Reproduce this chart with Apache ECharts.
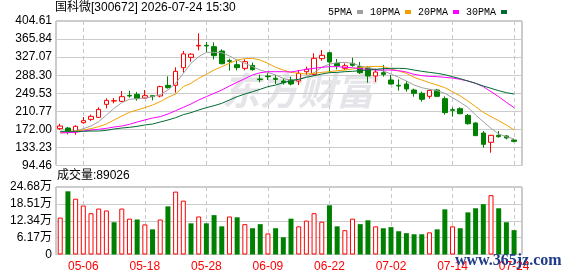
<!DOCTYPE html>
<html>
<head>
<meta charset="utf-8">
<script src="https://cdn.jsdelivr.net/npm/echarts@6/dist/echarts.min.js"></script>
<style>
html, body { margin: 0; padding: 0; background: #fff; }
#kChart { width: 578px; height: 276px; }
</style>
</head>
<body>
<div id="kChart"></div>
<script>
// 交易日
var dates = ['04-28','04-29','04-30','05-06','05-07','05-08','05-11','05-12','05-13','05-14',
	'05-15','05-18','05-19','05-20','05-21','05-22','05-25','05-26','05-27','05-28',
	'05-29','06-01','06-02','06-03','06-04','06-05','06-08','06-09','06-10','06-11',
	'06-12','06-15','06-16','06-17','06-18','06-22','06-23','06-24','06-25','06-26',
	'06-29','06-30','07-01','07-02','07-03','07-06','07-07','07-08','07-09','07-10',
	'07-13','07-14','07-15','07-16','07-17','07-20','07-21','07-22','07-23','07-24'];
var shownDates = ['05-06','05-18','05-28','06-09','06-22','07-02','07-14','07-24'];

var openP = [173.5,174.9,167.8,186.4,193.5,197.8,225.7,232.9,232.2,245.0,
	247.2,239.3,244.3,243.6,266.5,266.5,304.4,326.6,351.0,352.4,
	349.5,340.2,319.5,310.9,303.0,309.4,280.1,286.6,281.6,275.8,
	278.0,275.8,295.8,290.1,323.8,336.6,313.7,303.0,313.7,306.6,
	303.7,286.6,293.7,278.0,266.5,269.4,256.5,249.4,242.9,256.5,
	237.9,214.3,216.4,202.1,185.7,164.2,144.2,159.2,157.8,149.2];
var closeP = [179.2,166.3,178.5,190.7,200.0,215.0,234.3,233.6,242.2,243.6,
	237.9,244.3,242.2,263.7,261.5,296.6,334.0,333.4,352.4,351.0,
	330.2,313.0,318.0,304.4,317.3,300.1,278.7,285.1,279.4,272.2,
	269.4,292.3,300.9,324.5,330.9,316.6,308.0,308.5,309.4,293.7,
	286.6,295.1,290.1,269.4,265.1,258.7,249.4,236.5,255.8,242.9,
	207.9,212.9,205.7,184.2,158.5,139.9,159.2,156.3,153.5,146.3];
var lowP = [170.6,161.3,160.6,184.2,189.9,196.4,217.1,227.9,230.7,240.0,
	233.6,237.9,234.3,240.8,259.4,250.8,293.7,317.3,341.7,337.4,
	322.3,311.5,298.0,298.7,298.7,298.0,273.0,278.0,269.4,268.0,
	266.5,267.2,288.7,288.7,319.5,295.8,300.9,299.4,306.6,290.8,
	272.2,273.7,285.1,268.0,255.1,252.9,242.2,231.5,237.9,241.5,
	203.6,199.3,204.3,182.1,157.8,132.7,122.0,154.2,150.6,144.2];
var highP = [184.2,177.1,180.7,198.5,203.6,219.3,238.6,239.3,254.4,255.1,
	252.2,256.5,245.0,265.8,285.8,305.2,340.2,335.2,378.1,359.5,
	358.8,343.8,323.8,320.9,322.3,315.2,289.4,292.3,288.7,281.6,
	285.1,299.4,306.6,335.2,342.4,338.8,323.0,313.7,325.9,316.6,
	308.0,302.3,310.2,288.7,279.4,275.8,259.4,252.9,257.2,258.7,
	242.9,219.3,219.3,205.0,187.1,168.5,159.9,168.5,159.9,152.0];

// 成交量（万）
var volWan = [13.5,23.1,20.4,17.9,15.1,16.8,16.1,11.8,16.8,13.1,
	12.8,11.0,9.2,12.8,17.6,23.0,19.7,11.4,13.9,11.4,
	14.4,10.3,13.9,13.6,11.1,9.6,11.1,7.7,9.6,6.3,
	13.1,10.3,12.4,15.1,12.0,18.0,10.3,8.9,13.1,11.1,
	12.5,10.3,9.6,10.0,8.5,7.8,7.4,7.4,8.1,9.2,
	16.5,10.3,9.6,15.4,16.9,18.4,21.7,16.9,11.8,8.9026];

var ma5 = [167.1,167.1,168.5,173.5,179.2,188.5,202.8,217.1,229.3,236.5,
	237.9,239.3,242.2,246.5,256.5,270.8,292.3,313.7,328.1,337.4,
	337.4,336.6,329.5,320.9,313.7,306.6,299.4,294.4,288.7,281.6,
	276.5,279.4,285.1,293.7,305.2,312.3,315.2,315.9,313.7,308.0,
	304.4,300.9,297.3,290.8,283.7,275.8,267.2,261.5,258.0,255.1,
	249.4,240.0,230.0,219.3,202.8,188.5,174.2,162.0,156.3,151.3];
var ma10 = [165.6,166.3,168.5,170.6,173.5,177.8,183.5,192.1,200.7,208.6,
	213.6,218.6,224.3,231.5,240.8,247.9,263.7,270.8,281.6,290.1,
	299.4,306.6,313.7,320.9,323.8,324.5,320.9,313.7,305.2,299.4,
	294.4,292.3,290.8,292.3,294.4,295.8,298.0,299.4,301.6,304.4,
	306.6,307.3,306.6,301.6,297.3,292.3,283.7,278.0,272.2,267.2,
	261.5,252.9,243.6,232.9,220.7,208.6,199.3,190.7,181.4,170.6];
var ma20 = [164.2,164.9,165.6,168.5,170.6,172.1,174.2,177.1,179.2,182.8,
	187.8,192.1,196.4,199.3,205.0,212.1,219.3,226.5,235.0,242.2,
	249.4,256.5,265.1,273.0,280.8,288.7,293.7,295.8,295.8,295.8,
	295.1,298.0,300.9,303.0,305.2,306.6,306.6,305.2,304.4,302.3,
	300.9,299.4,299.4,299.4,298.0,295.1,290.1,287.3,285.8,285.1,
	283.7,282.3,279.4,275.8,270.8,263.7,252.9,242.2,230.0,218.6];
var ma30 = [167.8,167.8,167.8,167.8,168.5,168.5,169.9,172.8,174.9,176.4,
	178.5,181.4,183.5,187.8,192.1,197.1,203.6,207.9,213.6,218.6,
	222.9,227.9,235.0,242.2,247.9,252.9,258.0,263.7,267.2,272.2,
	276.5,279.4,283.7,287.3,290.8,293.7,294.4,295.8,296.6,298.0,
	299.4,300.9,302.3,303.0,303.0,302.3,299.4,296.6,294.4,292.3,
	289.4,285.1,280.8,275.8,270.8,265.1,260.1,255.1,250.8,247.9];

var priceTicks = ['94.46','133.23','172.00','210.77','249.53','288.30','327.07','365.84','404.61'];
var volTicks = ['0','6.17万','12.34万','18.51万','24.68万'];

var UP = '#ff0000', DOWN = '#008000';
var numFont = '"Liberation Sans", "Noto Sans CJK SC", sans-serif';

var labelIdx = shownDates.map(function (d) { return dates.indexOf(d); });
var pMin = parseFloat(priceTicks[0]);
var pMax = parseFloat(priceTicks[priceTicks.length - 1]);
var pStep = (pMax - pMin) / (priceTicks.length - 1);

var candleData = dates.map(function (d, i) {
	return [i, openP[i], closeP[i], lowP[i], highP[i]];
});
// 量柱颜色按当日收盘与前一日收盘比较
var volData = volWan.map(function (v, i) {
	var up = i === 0 ? closeP[0] >= openP[0] : closeP[i] >= closeP[i - 1];
	return {
		value: [i, v],
		itemStyle: up ? { color: '#fff', borderColor: UP, borderWidth: 1 } : { color: DOWN }
	};
});

function dayAxis(gridIndex, withLabel) {
	return {
		type: 'value',
		gridIndex: gridIndex,
		min: -0.55,
		max: 60.03,
		axisLine: { show: false },
		axisTick: { show: false, customValues: labelIdx },
		axisLabel: {
			show: withLabel,
			customValues: labelIdx,
			formatter: function (v) { return dates[v]; },
			color: UP,
			fontFamily: numFont,
			fontSize: 12,
			margin: 6
		},
		splitLine: { show: true, lineStyle: { color: '#c8c8c8', type: [4, 3], width: 1 } }
	};
}

function maLine(name, data, color) {
	return {
		name: name,
		type: 'line',
		xAxisIndex: 0,
		yAxisIndex: 0,
		data: data.map(function (v, i) { return [i, v]; }),
		symbol: 'none',
		color: color,
		lineStyle: { width: 1, color: color },
		z: 4
	};
}

var kChart = echarts.init(document.getElementById('kChart'));
var kOption = {
	animation: false,
	legend: {
		right: 66,
		top: 2,
		align: 'right',
		icon: 'rect',
		itemWidth: 6,
		itemHeight: 4,
		itemGap: 7,
		textStyle: { fontFamily: '"Liberation Mono", monospace', fontSize: 10, color: '#000' },
		data: ['5PMA', '10PMA', '20PMA', '30PMA']
	},
	grid: [
		{ left: 56, top: 21, width: 466, height: 144.5, show: true, borderColor: '#999', borderWidth: 1, backgroundColor: 'transparent' },
		{ left: 56, top: 187, width: 466, height: 67.5, show: true, borderColor: '#999', borderWidth: 1, backgroundColor: 'transparent' }
	],
	xAxis: [dayAxis(0, false), dayAxis(1, true)],
	yAxis: [
		{
			type: 'value',
			gridIndex: 0,
			min: pMin,
			max: pMax,
			interval: pStep,
			axisLine: { show: false },
			axisTick: { show: false },
			axisLabel: {
				formatter: function (v, i) { return priceTicks[i]; },
				color: '#000', fontFamily: numFont, fontSize: 12, margin: 4
			},
			splitLine: { lineStyle: { color: '#cccccc' } }
		},
		{
			type: 'value',
			gridIndex: 1,
			min: 0,
			max: 24.68,
			interval: 6.17,
			axisLine: { show: false },
			axisTick: { show: false },
			axisLabel: {
				formatter: function (v, i) { return volTicks[i]; },
				color: '#000', fontFamily: numFont, fontSize: 12, margin: 4
			},
			splitLine: { lineStyle: { color: '#cccccc' } }
		}
	],
	graphic: [
		{
			type: 'text', left: 55, top: 2,
			style: { text: '国科微[300672] 2026-07-24 15:30', font: '12px ' + numFont, fill: '#000' }
		},
		{
			type: 'text', left: 57, top: 170,
			style: { text: '成交量:' + Math.round(volWan[volWan.length - 1] * 10000), font: '12px ' + numFont, fill: '#000' }
		},
		{
			type: 'text', left: 222, top: 72, z: 1,
			style: { text: '东方财富', font: 'italic bold 38px "Noto Sans CJK SC"', fill: 'rgba(205,205,215,0.55)' }
		},
		{
			type: 'text', left: 455, top: 253, z: 100,
			style: { text: 'www.365jz.com', font: 'bold 16px "Liberation Serif", serif', fill: '#1f3b87' }
		}
	],
	series: [
		{
			name: '日K',
			type: 'candlestick',
			xAxisIndex: 0,
			yAxisIndex: 0,
			barWidth: 5,
			data: candleData,
			itemStyle: {
				color: '#fff',
				color0: DOWN,
				borderColor: UP,
				borderColor0: DOWN,
				borderWidth: 1
			},
			z: 3
		},
		maLine('5PMA', ma5, '#a0a0a0'),
		maLine('10PMA', ma10, '#f2a000'),
		maLine('20PMA', ma20, '#ff00ff'),
		maLine('30PMA', ma30, '#006b33'),
		{
			name: '成交量',
			type: 'bar',
			xAxisIndex: 1,
			yAxisIndex: 1,
			barWidth: 5,
			data: volData
		}
	]
};
kChart.setOption(kOption);
</script>
</body>
</html>
